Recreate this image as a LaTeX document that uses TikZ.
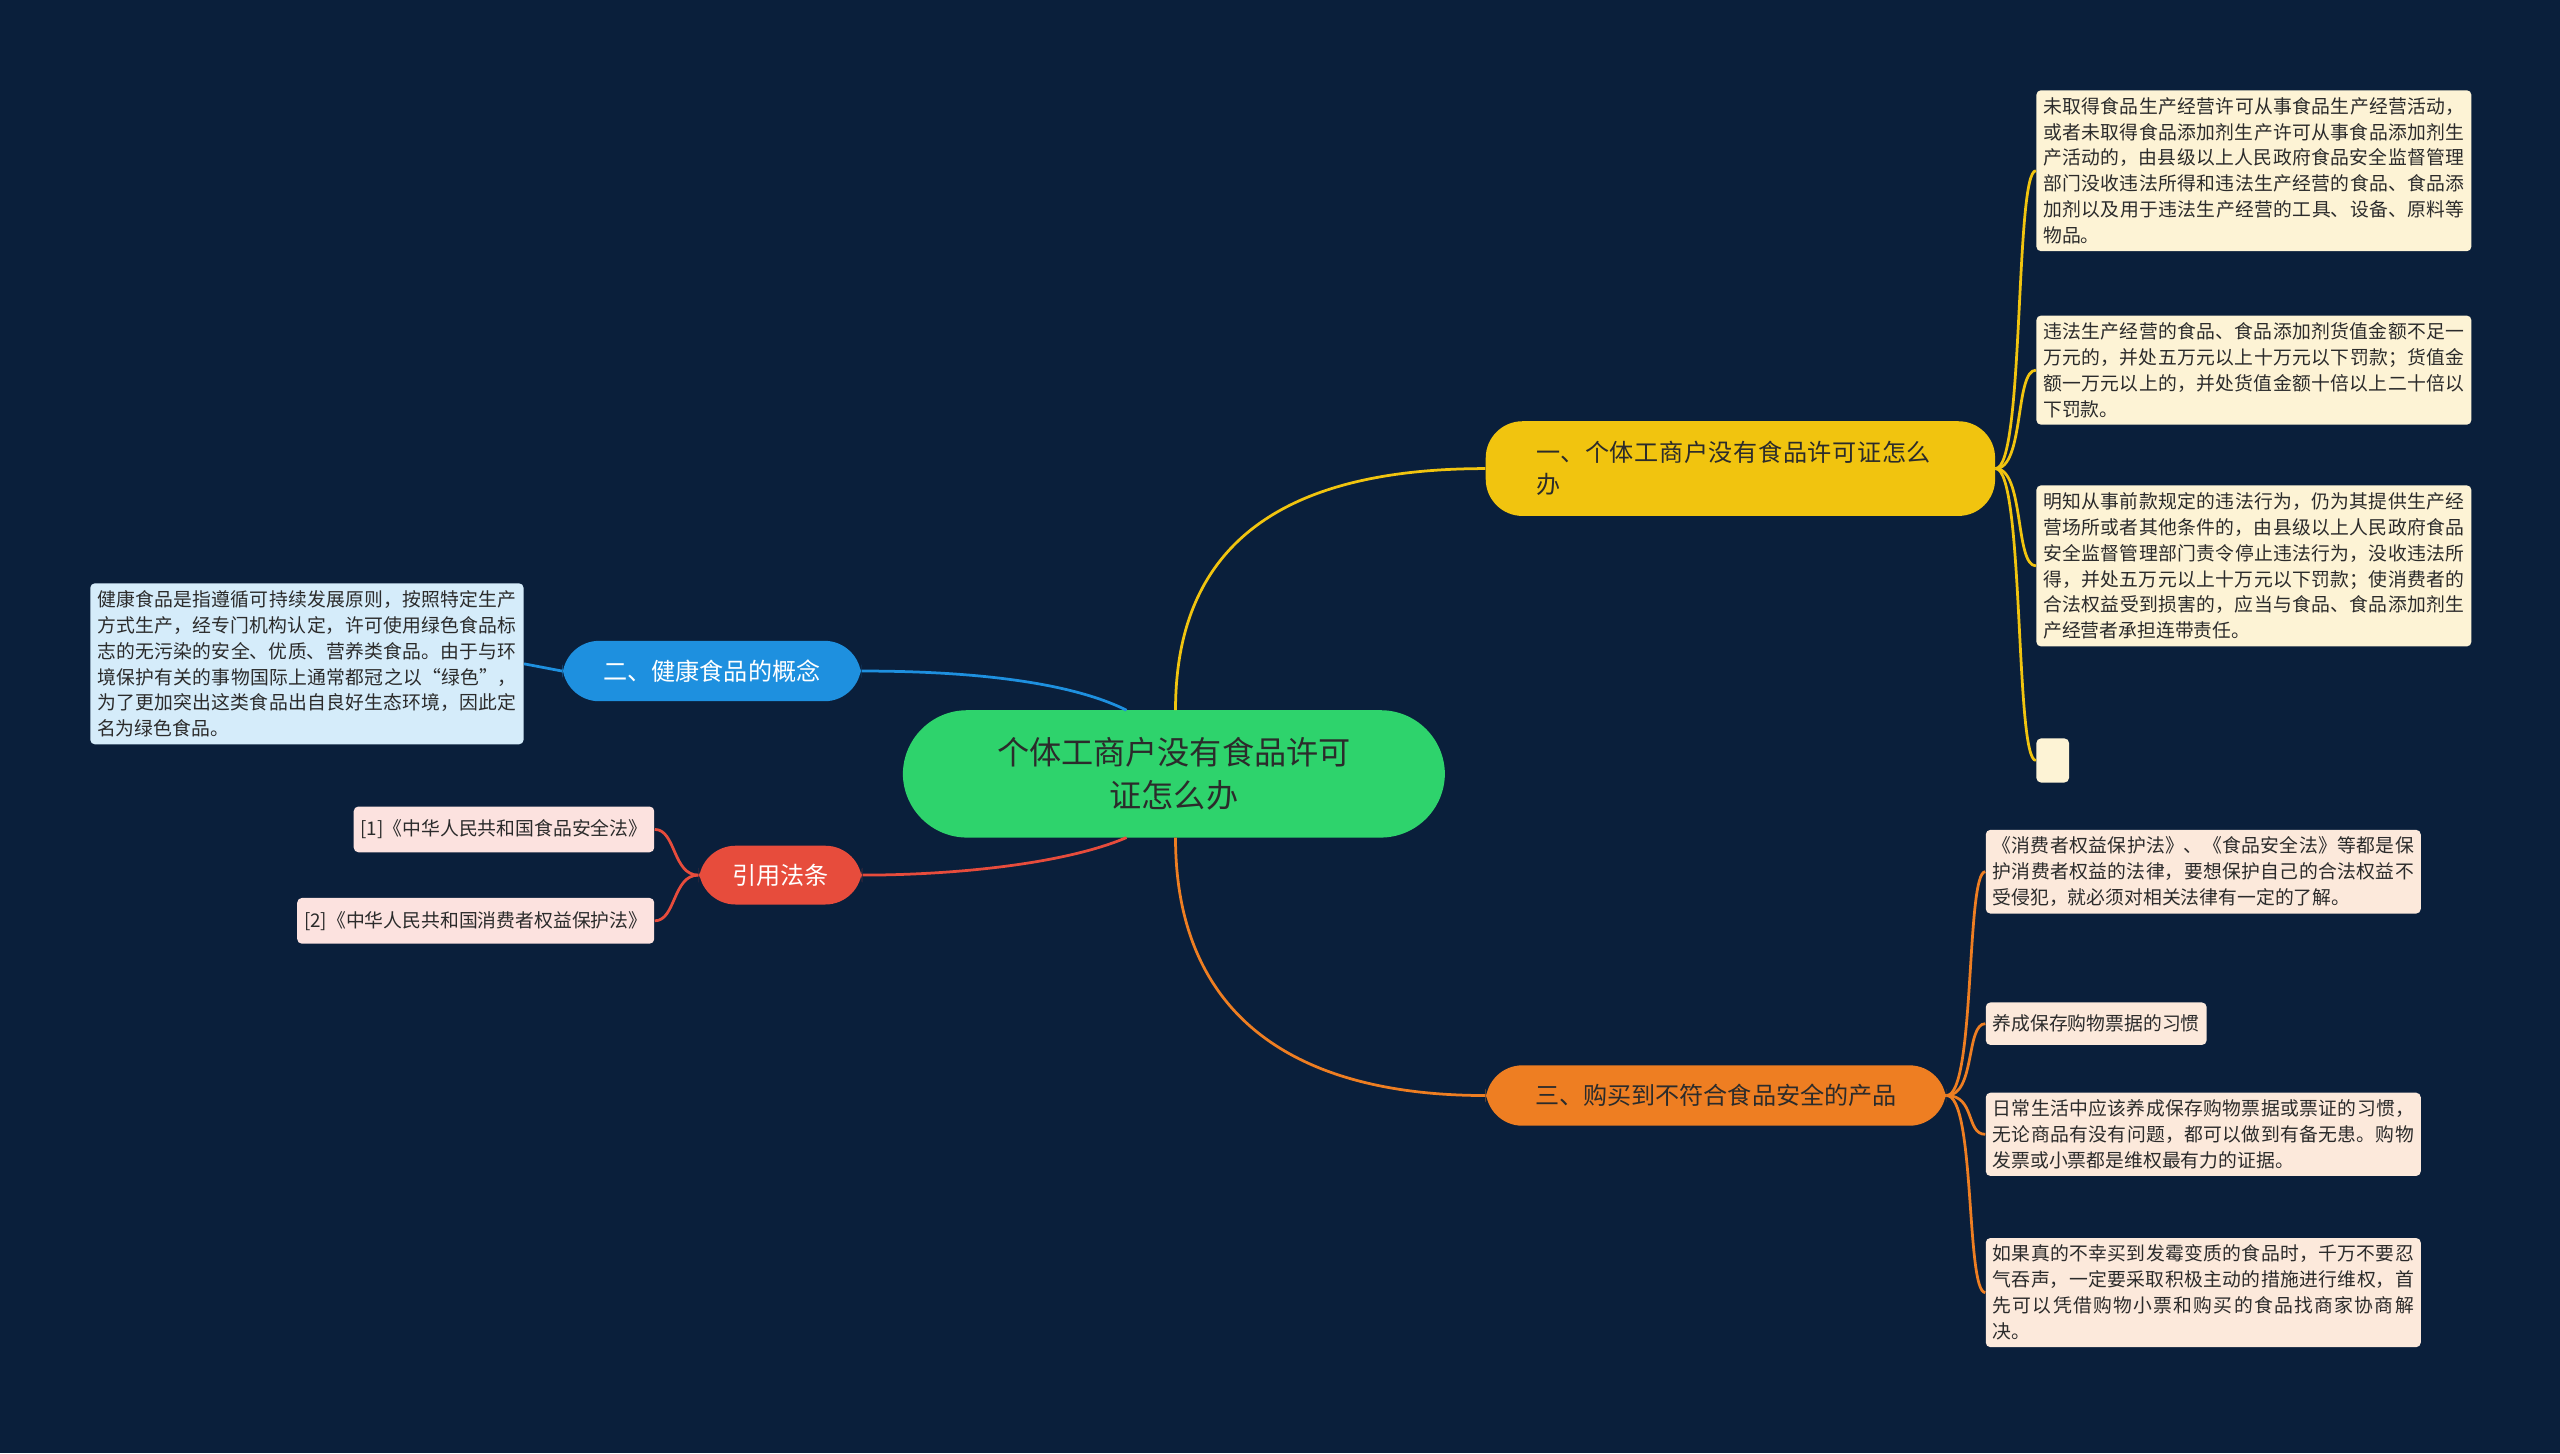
\documentclass[tikz,border=0pt]{standalone}
\usepackage{fontspec}
\setmainfont{Noto Sans CJK SC}
\XeTeXlinebreaklocale "zh"
\XeTeXlinebreakskip=0pt plus 1pt
\definecolor{bgnavy}{HTML}{0A1F3B}
\definecolor{cgreen}{HTML}{2ED36C}
\definecolor{cyellow}{HTML}{F1C40F}
\definecolor{cblue}{HTML}{1E90DF}
\definecolor{cred}{HTML}{E74C3C}
\definecolor{corange}{HTML}{EE7E22}
\definecolor{lyellow}{HTML}{FDF3D5}
\definecolor{lblue}{HTML}{D5ECFA}
\definecolor{lred}{HTML}{FCE2DF}
\definecolor{lorange}{HTML}{FCE9DB}
\definecolor{ink}{HTML}{2B2B2B}
\tikzset{
  branch/.style={rounded corners=16pt, minimum height=#1, inner xsep=8pt, font=\fontsize{10.5}{14}\selectfont},
  leaf/.style={draw=none, rounded corners=2pt, inner sep=3pt, text=ink, align=justify, font=\fontsize{8.2}{11.3}\selectfont},
  link/.style={line width=1.2pt}
}
\begin{document}
\begin{tikzpicture}[x=0.025cm,y=-0.025cm]
\fill[bgnavy] (0,0) rectangle (1568,890);

% centre and branches
\node[fill=cgreen, rounded corners=28pt, minimum width=332*0.025cm, minimum height=78*0.025cm, align=center, text=ink, font=\fontsize{14}{19}\selectfont] (root) at (719,474) {个体工商户没有食品许可\\证怎么办};
\node[branch=58*0.025cm, fill=cyellow, text=ink, text width=250*0.025cm, align=left, minimum width=312*0.025cm] (b1) at (1066,287) {一、个体工商户没有食品许可证怎么办};
\node[branch=37*0.025cm, fill=cblue, text=white, minimum width=183*0.025cm] (b2) at (436,411) {二、健康食品的概念};
\node[branch=36*0.025cm, fill=cred, text=white, minimum width=100*0.025cm] (b3) at (478,536) {引用法条};
\node[branch=37*0.025cm, fill=corange, text=ink, minimum width=282*0.025cm] (b4) at (1051,671) {三、购买到不符合食品安全的产品};

\coordinate (rt) at (720,435);
\coordinate (rtl) at (690,435);
\coordinate (rb) at (720,513);
\coordinate (rbl) at (690,513);
\draw[link, cyellow] (rt) .. controls (720,330) and (790,287) .. (b1.west);
\draw[link, cblue] (rtl) .. controls (650,415) and (580,411) .. (b2.east);
\draw[link, cred] (rbl) .. controls (650,530) and (580,536) .. (b3.east);
\draw[link, corange] (rb) .. controls (720,620) and (790,671) .. (b4.west);

% leaves of branch one
\node[leaf, fill=lyellow, text width=258*0.025cm, anchor=north west] (y1) at (1247,55) {未取得食品生产经营许可从事食品生产经营活动，或者未取得食品添加剂生产许可从事食品添加剂生产活动的，由县级以上人民政府食品安全监督管理部门没收违法所得和违法生产经营的食品、食品添加剂以及用于违法生产经营的工具、设备、原料等物品。};
\node[leaf, fill=lyellow, text width=258*0.025cm, anchor=north west] (y2) at (1247,193) {违法生产经营的食品、食品添加剂货值金额不足一万元的，并处五万元以上十万元以下罚款；货值金额一万元以上的，并处货值金额十倍以上二十倍以下罚款。};
\node[leaf, fill=lyellow, text width=258*0.025cm, anchor=north west] (y3) at (1247,297) {明知从事前款规定的违法行为，仍为其提供生产经营场所或者其他条件的，由县级以上人民政府食品安全监督管理部门责令停止违法行为，没收违法所得，并处五万元以上十万元以下罚款；使消费者的合法权益受到损害的，应当与食品、食品添加剂生产经营者承担连带责任。};
\node[fill=lyellow, rounded corners=2pt, minimum width=20*0.025cm, minimum height=27*0.025cm, anchor=north west, inner sep=0pt] (y4) at (1247,452) {};
\foreach \n in {y1,y2,y3,y4}
  \draw[link, cyellow] (b1.east) .. controls (1240,287) and (1234,0|-\n.west) .. (\n.west);

% leaf of branch two
\node[leaf, fill=lblue, text width=257*0.025cm, anchor=north west] (g1) at (55,357) {健康食品是指遵循可持续发展原则，按照特定生产方式生产，经专门机构认定，许可使用绿色食品标志的无污染的安全、优质、营养类食品。由于与环境保护有关的事物国际上通常都冠之以“绿色”，为了更加突出这类食品出自良好生态环境，因此定名为绿色食品。};
\draw[link, cblue] (b2.west) -- (g1.east);

% leaves of branch three
\node[leaf, fill=lred, align=left, anchor=east, minimum height=28*0.025cm] (r1) at (401,508) {[1]《中华人民共和国食品安全法》};
\node[leaf, fill=lred, align=left, anchor=east, minimum height=28*0.025cm] (r2) at (401,564) {[2]《中华人民共和国消费者权益保护法》};
\foreach \n in {r1,r2}
  \draw[link, cred] (b3.west) .. controls (412,536) and (414,0|-\n.east) .. (\n.east);

% leaves of branch four
\node[leaf, fill=lorange, text width=258*0.025cm, anchor=north west] (o1) at (1216,508) {《消费者权益保护法》、《食品安全法》等都是保护消费者权益的法律，要想保护自己的合法权益不受侵犯，就必须对相关法律有一定的了解。};
\node[leaf, fill=lorange, align=left, anchor=west, minimum height=26*0.025cm] (o2) at (1216,627) {养成保存购物票据的习惯};
\node[leaf, fill=lorange, text width=258*0.025cm, anchor=north west] (o3) at (1216,669) {日常生活中应该养成保存购物票据或票证的习惯，无论商品有没有问题，都可以做到有备无患。购物发票或小票都是维权最有力的证据。};
\node[leaf, fill=lorange, text width=258*0.025cm, anchor=north west] (o4) at (1216,758) {如果真的不幸买到发霉变质的食品时，千万不要忍气吞声，一定要采取积极主动的措施进行维权，首先可以凭借购物小票和购买的食品找商家协商解决。};
\foreach \n in {o1,o2,o3,o4}
  \draw[link, corange] (b4.east) .. controls (1210,671) and (1204,0|-\n.west) .. (\n.west);
\end{tikzpicture}
\end{document}
